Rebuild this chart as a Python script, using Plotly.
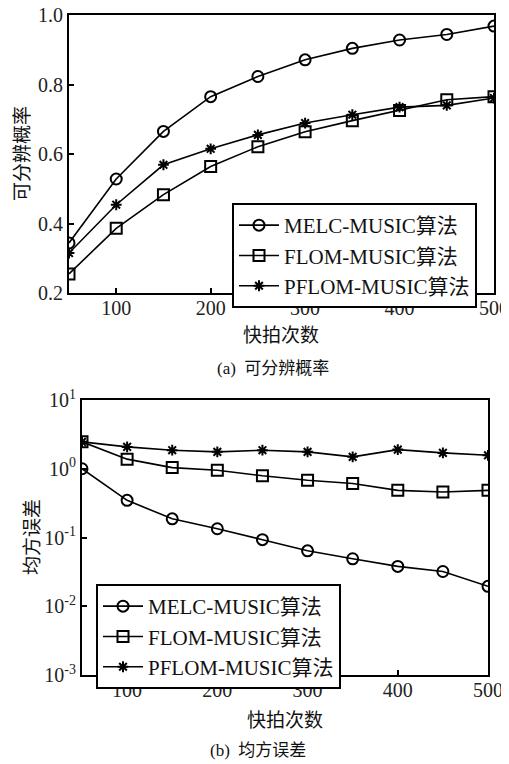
import plotly.graph_objects as go

snapshots = [50, 100, 150, 200, 250, 300, 350, 400, 450, 500]
series_names = ["MELC-MUSIC算法", "FLOM-MUSIC算法", "PFLOM-MUSIC算法"]

# (a) resolution probability
prob_melc = [0.344, 0.528, 0.665, 0.765, 0.823, 0.871, 0.904, 0.928, 0.944, 0.968]
prob_flom = [0.255, 0.386, 0.483, 0.564, 0.621, 0.664, 0.696, 0.725, 0.756, 0.765]
prob_pflom = [0.315, 0.454, 0.569, 0.615, 0.655, 0.689, 0.713, 0.735, 0.740, 0.761]

# (b) mean squared error
mse_melc = [1.0, 0.347, 0.187, 0.134, 0.093, 0.064, 0.049, 0.038, 0.032, 0.0195]
mse_flom = [2.46, 1.38, 1.04, 0.95, 0.79, 0.68, 0.61, 0.485, 0.46, 0.485]
mse_pflom = [2.46, 2.08, 1.86, 1.76, 1.86, 1.76, 1.49, 1.90, 1.70, 1.57]

prob_ticks = [0.2, 0.4, 0.6, 0.8, 1.0]
prob_ticktext = ["0.2", "0.4", "0.6", "0.8", "1.0"]
mse_ticks = [1e-3, 1e-2, 1e-1, 1e0, 1e1]
mse_ticktext = ["10<sup>-3</sup>", "10<sup>-2</sup>", "10<sup>-1</sup>", "10<sup>0</sup>", "10<sup>1</sup>"]
x_ticks = [100, 200, 300, 400, 500]

OFF = 8  # page body margin around the figure
W, H = 509 - OFF, 764 - OFF
FONT = "Liberation Serif, Times New Roman, Noto Sans CJK SC, serif"
CJK = "Noto Sans CJK SC, Liberation Serif, serif"

symbols = ["circle-open", "square-open", "asterisk-open"]
sizes = [11, 11, 9]

fig = go.Figure()

top_sets = [prob_melc, prob_flom, prob_pflom]
bot_sets = [mse_melc, mse_flom, mse_pflom]
for i, name in enumerate(series_names):
    fig.add_trace(go.Scatter(
        x=snapshots, y=top_sets[i], name=name, mode="lines+markers",
        line=dict(color="black", width=1.6),
        marker=dict(symbol=symbols[i], size=sizes[i], color="black",
                    line=dict(color="black", width=2)),
        xaxis="x", yaxis="y", legend="legend"))
for i, name in enumerate(series_names):
    fig.add_trace(go.Scatter(
        x=snapshots, y=bot_sets[i], name=name, mode="lines+markers",
        line=dict(color="black", width=1.6),
        marker=dict(symbol=symbols[i], size=sizes[i], color="black",
                    line=dict(color="black", width=2)),
        xaxis="x2", yaxis="y2", legend="legend2"))

def px(v):
    return (v - OFF) / W

def py(v):
    return (H - (v - OFF)) / H

axis_common = dict(
    showgrid=False, zeroline=False, showline=True, mirror=True,
    linecolor="black", linewidth=2, ticks="inside", ticklen=5,
    tickwidth=1.5, tickcolor="black", automargin=False,
    ticklabeloverflow="allow",
    tickfont=dict(family=FONT, size=20, color="#222"),
)
xaxis_common = dict(axis_common, ticklabelstandoff=-4)

fig.update_layout(
    width=W, height=H,
    margin=dict(l=0, r=0, t=0, b=0, autoexpand=False),
    paper_bgcolor="white", plot_bgcolor="white",
    showlegend=True,
    xaxis=dict(domain=[px(69), px(494)], range=[50, 500], tickvals=x_ticks,
               anchor="y", **xaxis_common),
    yaxis=dict(domain=[py(293), py(15)], range=[0.2, 1.0], tickvals=prob_ticks,
               ticktext=prob_ticktext, anchor="x", **axis_common),
    xaxis2=dict(domain=[px(82), px(488)], range=[50, 500], tickvals=x_ticks,
                anchor="y2", **xaxis_common),
    yaxis2=dict(domain=[py(675), py(400)], type="log", range=[-3, 1],
                tickvals=mse_ticks, ticktext=mse_ticktext, anchor="x2", **axis_common),
    legend=dict(x=px(232), y=py(203), xanchor="left", yanchor="top",
                bgcolor="white", bordercolor="black", borderwidth=2,
                font=dict(family=FONT, size=21, color="#111"),
                tracegroupgap=0, itemwidth=40),
    legend2=dict(x=px(96), y=py(584), xanchor="left", yanchor="top",
                 bgcolor="white", bordercolor="black", borderwidth=2,
                 font=dict(family=FONT, size=21, color="#111"),
                 tracegroupgap=0, itemwidth=40),
)

annotations = [
    dict(text="可分辨概率", x=px(20), y=py(154), textangle=-90, font=dict(family=CJK, size=19)),
    dict(text="快拍次数", x=px(281), y=py(333), font=dict(family=CJK, size=19)),
    dict(text="(a)  可分辨概率", x=px(273), y=py(368), font=dict(family=FONT, size=17)),
    dict(text="均方误差", x=px(30), y=py(537), textangle=-90, font=dict(family=CJK, size=19)),
    dict(text="快拍次数", x=px(285), y=py(718), font=dict(family=CJK, size=19)),
    dict(text="(b)  均方误差", x=px(258), y=py(750), font=dict(family=FONT, size=17)),
]
for a in annotations:
    a.update(xref="paper", yref="paper", showarrow=False, xanchor="center", yanchor="middle")
    a["font"]["color"] = "#111"
fig.update_layout(annotations=annotations)

fig.write_html("out.html")
